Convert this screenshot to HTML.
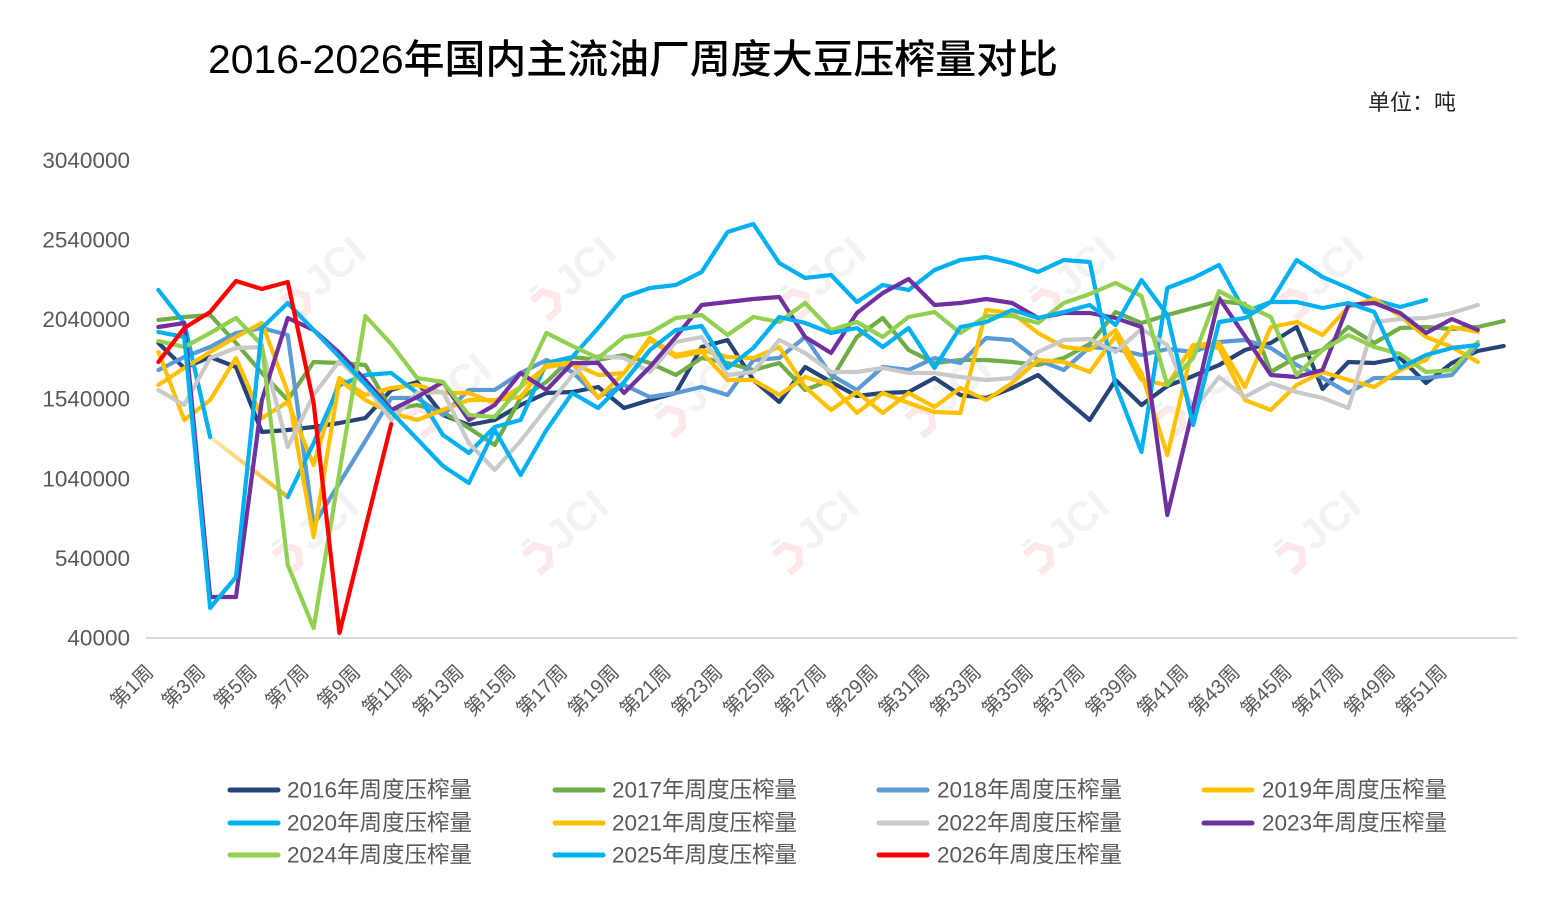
<!DOCTYPE html>
<html><head><meta charset="utf-8"><style>
html,body{margin:0;padding:0;background:#fff;}
svg{display:block;}
text{font-family:"Liberation Sans","Noto Sans CJK SC",sans-serif;}
</style></head><body>
<svg width="1543" height="902" viewBox="0 0 1543 902" xmlns="http://www.w3.org/2000/svg">
<rect width="1543" height="902" fill="#fff"/>
<defs>
<linearGradient id="pale" x1="210" y1="437" x2="288" y2="497" gradientUnits="userSpaceOnUse"><stop offset="0" stop-color="#FFEAB0"/><stop offset="1" stop-color="#EFB715"/></linearGradient>
<g id="wm"><path d="M-58,-6 L-44,-6 L-36,6 L-44,18 L-58,18" stroke="#FCE3E3" stroke-width="7" fill="none"/><path d="M-54,-14 L-44,-14" stroke="#E6F3EC" stroke-width="4"/><text x="-28" y="16" font-size="42" font-weight="bold" fill="#EFEFEF">JCI</text></g>
</defs>
<text x="208" y="73" font-size="40" font-weight="500" fill="#000" textLength="850" lengthAdjust="spacingAndGlyphs">2016-2026年国内主流油厂周度大豆压榨量对比</text>
<text x="1368" y="110" font-size="22" fill="#262626">单位：吨</text>
<!-- watermarks -->
<g opacity="0.8">
<use href="#wm" transform="translate(330,268) rotate(-40)"/>
<use href="#wm" transform="translate(580,268) rotate(-40)"/>
<use href="#wm" transform="translate(830,268) rotate(-40)"/>
<use href="#wm" transform="translate(1080,268) rotate(-40)"/>
<use href="#wm" transform="translate(1328,268) rotate(-40)"/>
<use href="#wm" transform="translate(455,385) rotate(-40)"/>
<use href="#wm" transform="translate(705,385) rotate(-40)"/>
<use href="#wm" transform="translate(955,385) rotate(-40)"/>
<use href="#wm" transform="translate(1205,385) rotate(-40)"/>
<use href="#wm" transform="translate(322,522) rotate(-40)"/>
<use href="#wm" transform="translate(572,522) rotate(-40)"/>
<use href="#wm" transform="translate(822,522) rotate(-40)"/>
<use href="#wm" transform="translate(1073,522) rotate(-40)"/>
<use href="#wm" transform="translate(1325,522) rotate(-40)"/>
</g>
<!-- y axis labels -->
<g font-size="22.5" fill="#595959" text-anchor="end" dominant-baseline="central">
<text x="130" y="160.4">3040000</text>
<text x="130" y="240">2540000</text>
<text x="130" y="319.6">2040000</text>
<text x="130" y="399.2">1540000</text>
<text x="130" y="478.8">1040000</text>
<text x="130" y="558.4">540000</text>
<text x="130" y="638">40000</text>
</g>
<line x1="146" y1="638" x2="1517" y2="638" stroke="#D9D9D9" stroke-width="2"/>
<!-- x labels -->
<g font-size="20" fill="#595959" text-anchor="end" dominant-baseline="central">
<text x="150.4" y="669" transform="rotate(-45 150.4 669)">第1周</text>
<text x="202.1" y="669" transform="rotate(-45 202.1 669)">第3周</text>
<text x="253.9" y="669" transform="rotate(-45 253.9 669)">第5周</text>
<text x="305.6" y="669" transform="rotate(-45 305.6 669)">第7周</text>
<text x="357.4" y="669" transform="rotate(-45 357.4 669)">第9周</text>
<text x="409.1" y="669" transform="rotate(-45 409.1 669)">第11周</text>
<text x="460.8" y="669" transform="rotate(-45 460.8 669)">第13周</text>
<text x="512.6" y="669" transform="rotate(-45 512.6 669)">第15周</text>
<text x="564.3" y="669" transform="rotate(-45 564.3 669)">第17周</text>
<text x="616.1" y="669" transform="rotate(-45 616.1 669)">第19周</text>
<text x="667.8" y="669" transform="rotate(-45 667.8 669)">第21周</text>
<text x="719.5" y="669" transform="rotate(-45 719.5 669)">第23周</text>
<text x="771.3" y="669" transform="rotate(-45 771.3 669)">第25周</text>
<text x="823.0" y="669" transform="rotate(-45 823.0 669)">第27周</text>
<text x="874.8" y="669" transform="rotate(-45 874.8 669)">第29周</text>
<text x="926.5" y="669" transform="rotate(-45 926.5 669)">第31周</text>
<text x="978.2" y="669" transform="rotate(-45 978.2 669)">第33周</text>
<text x="1030.0" y="669" transform="rotate(-45 1030.0 669)">第35周</text>
<text x="1081.7" y="669" transform="rotate(-45 1081.7 669)">第37周</text>
<text x="1133.5" y="669" transform="rotate(-45 1133.5 669)">第39周</text>
<text x="1185.2" y="669" transform="rotate(-45 1185.2 669)">第41周</text>
<text x="1236.9" y="669" transform="rotate(-45 1236.9 669)">第43周</text>
<text x="1288.7" y="669" transform="rotate(-45 1288.7 669)">第45周</text>
<text x="1340.4" y="669" transform="rotate(-45 1340.4 669)">第47周</text>
<text x="1392.2" y="669" transform="rotate(-45 1392.2 669)">第49周</text>
<text x="1443.9" y="669" transform="rotate(-45 1443.9 669)">第51周</text>
</g>
<!-- series -->
<g fill="none" stroke-width="4.2" stroke-linejoin="round" stroke-linecap="round">
<g transform="translate(132.53,0) scale(25.87,1)">
<polyline vector-effect="non-scaling-stroke" stroke="#264478" points="1,343 2,368 3,357 4,367 5,432 6,430 7,427 8,423 9,418 10,390 11,382 12,415 13,425 14,420 15,405 16,393 17,392 18,387 19,408 20,400 21,393 22,347 23,340 24,380 25,402 26,367 27,382 28,396 29,393 30,392 31,378 32,395 33,398 34,388 35,375 36,398 37,420 38,380 39,405 40,386 41,376 42,365 43,350 44,343 45,327 46,389 47,362 48,363 49,358 50,383 51,363 52,351 53,346"/>
<polyline vector-effect="non-scaling-stroke" stroke="#70AD47" points="1,320 2,317 3,315 4,343 5,373 6,400 7,362 8,363 9,365 10,410 11,405 12,412 13,428 14,445 15,398 16,382 17,357 18,360 19,355 20,363 21,375 22,358 23,363 24,370 25,363 26,390 27,380 28,337 29,318 30,350 31,363 32,360 33,360 34,362 35,365 36,358 37,344 38,312 39,323 40,315 41,308 42,301 43,304 44,372 45,357 46,350 47,327 48,343 49,328 50,327 51,329 52,327 53,321"/>
<polyline vector-effect="non-scaling-stroke" stroke="#5B9BD5" points="1,370 2,357 3,347 4,333 5,328 6,335 7,525 8,483 9,441 10,398 11,398 12,415 13,390 14,390 15,373 16,360 17,372 18,397 19,385 20,397 21,393 22,387 23,395 24,360 25,358 26,337 27,375 28,390 29,367 30,370 31,358 32,363 33,338 34,340 35,360 36,370 37,347 38,349 39,355 40,349 41,352 42,342 43,340 44,348 45,365 46,378 47,393 48,378 49,378 50,378 51,375 52,345"/>
<polyline vector-effect="non-scaling-stroke" stroke="#FFC000" points="1,352 2,420 3,400 4,358 5,418 6,402 7,465 8,378 9,395 10,388 11,385 12,393 13,393 14,403 15,387 16,367 17,363 18,398 19,373 20,338 21,355 22,350 23,357 24,358 25,347 26,387 27,410 28,392 29,413 30,393 31,407 32,388 33,400 34,383 35,360 36,362 37,372 38,336 39,380 40,385 41,345 42,348 43,400 44,410 45,385 46,372 47,380 48,387 49,370 50,360 51,327 52,332"/>
</g>
<line x1="210.1" y1="437" x2="287.8" y2="497" stroke="url(#pale)"/>
<g transform="translate(132.53,0) scale(25.87,1)">
<polyline vector-effect="non-scaling-stroke" stroke="#00B0F0" points="1,290 2,323 3,437"/>
<polyline vector-effect="non-scaling-stroke" stroke="#00B0F0" points="6,497 7,443 8,385 9,375 10,373 11,393 12,435 13,453 14,427 15,420 16,363 17,357 18,328 19,297 20,288 21,285 22,272 23,232 24,224 25,263 26,278 27,275 28,302 29,285 30,290 31,270 32,260 33,257 34,263 35,272 36,260 37,262 38,385 39,452 40,288 41,278 42,265 43,312 44,302 45,260 46,277 47,288 48,300 49,307 50,300"/>
<polyline vector-effect="non-scaling-stroke" stroke="#FFC000" points="1,385 2,368 3,352 4,337 5,323 6,392 7,537 8,380 9,400 10,413 11,420 12,410 13,400 14,400 15,397 16,365 17,363 18,375 19,373 20,340 21,357 22,352 23,380 24,380 25,395 26,377 27,385 28,413 29,393 30,403 31,412 32,413 33,310 34,313 35,333 36,347 37,350 38,330 39,373 40,455 41,345 42,343 43,387 44,327 45,322 46,335 47,307 48,299 49,316 50,337 51,347 52,362"/>
<polyline vector-effect="non-scaling-stroke" stroke="#C9C9C9" points="1,390 2,405 3,358 4,348 5,347 6,447 7,395 8,361 9,385 10,420 11,393 12,392 13,443 14,470 15,441 16,408 17,375 18,356 19,358 20,372 21,342 22,337 23,375 24,372 25,340 26,353 27,372 28,372 29,368 30,373 31,373 32,377 33,380 34,378 35,352 36,340 37,339 38,352 39,329 40,345 41,410 42,377 43,397 44,383 45,392 46,398 47,408 48,322 49,319 50,318 51,313 52,305"/>
<polyline vector-effect="non-scaling-stroke" stroke="#7030A0" points="1,327 2,323 3,597 4,597 5,400 6,318 7,330 8,353 9,380 10,410 11,397 12,382 13,420 14,405 15,373 16,390 17,363 18,363 19,393 20,367 21,337 22,305 23,302 24,299 25,297 26,337 27,353 28,313 29,293 30,279 31,305 32,303 33,299 34,303 35,318 36,313 37,313 38,318 39,327 40,515 41,408 42,298 43,336 44,375 45,377 46,370 47,305 48,303 49,313 50,333 51,319 52,330"/>
<polyline vector-effect="non-scaling-stroke" stroke="#92D050" points="1,341 2,347 3,333 4,318 5,345 6,565 7,628 8,472 9,316 10,344 11,378 12,382 13,415 14,417 15,387 16,333 17,346 18,358 19,337 20,333 21,318 22,315 23,335 24,317 25,322 26,303 27,330 28,322 29,337 30,317 31,312 32,333 33,316 34,316 35,323 36,303 37,294 38,283 39,296 40,385 41,358 42,291 43,305 44,317 45,375 46,350 47,335 48,347 49,354 50,372 51,370 52,342"/>
<polyline vector-effect="non-scaling-stroke" stroke="#00B0F0" points="1,332 2,337 3,608 4,577 5,328 6,303 7,330 8,357 9,384 10,412 11,439 12,466 13,483 14,430 15,475 16,430 17,393 18,408 19,382 20,350 21,330 22,326 23,368 24,348 25,317 26,323 27,333 28,328 29,347 30,328 31,368 32,327 33,322 34,310 35,318 36,312 37,305 38,325 39,280 40,315 41,425 42,322 43,318 44,302 45,302 46,308 47,303 48,312 49,368 50,355 51,348 52,345"/>
<polyline vector-effect="non-scaling-stroke" stroke="#FF0000" points="1,362 2,328 3,312 4,281 5,289 6,282 7,403 8,633 9,528 10,424"/>
</g>
</g>
<!-- legend -->
<g stroke-width="5" stroke-linecap="round">
<line x1="230" y1="790" x2="278" y2="790" stroke="#264478"/>
<line x1="555" y1="790" x2="603" y2="790" stroke="#70AD47"/>
<line x1="879" y1="790" x2="927" y2="790" stroke="#5B9BD5"/>
<line x1="1204" y1="790" x2="1252" y2="790" stroke="#FFC000"/>
<line x1="230" y1="823" x2="278" y2="823" stroke="#00B0F0"/>
<line x1="555" y1="823" x2="603" y2="823" stroke="#FFC000"/>
<line x1="879" y1="823" x2="927" y2="823" stroke="#C9C9C9"/>
<line x1="1204" y1="823" x2="1252" y2="823" stroke="#7030A0"/>
<line x1="230" y1="855" x2="278" y2="855" stroke="#92D050"/>
<line x1="555" y1="855" x2="603" y2="855" stroke="#00B0F0"/>
<line x1="879" y1="855" x2="927" y2="855" stroke="#FF0000"/>
</g>
<g font-size="22.5" fill="#595959" dominant-baseline="central">
<text x="287" y="790">2016年周度压榨量</text>
<text x="612" y="790">2017年周度压榨量</text>
<text x="937" y="790">2018年周度压榨量</text>
<text x="1262" y="790">2019年周度压榨量</text>
<text x="287" y="823">2020年周度压榨量</text>
<text x="612" y="823">2021年周度压榨量</text>
<text x="937" y="823">2022年周度压榨量</text>
<text x="1262" y="823">2023年周度压榨量</text>
<text x="287" y="855">2024年周度压榨量</text>
<text x="612" y="855">2025年周度压榨量</text>
<text x="937" y="855">2026年周度压榨量</text>
</g>
</svg>
</body></html>
